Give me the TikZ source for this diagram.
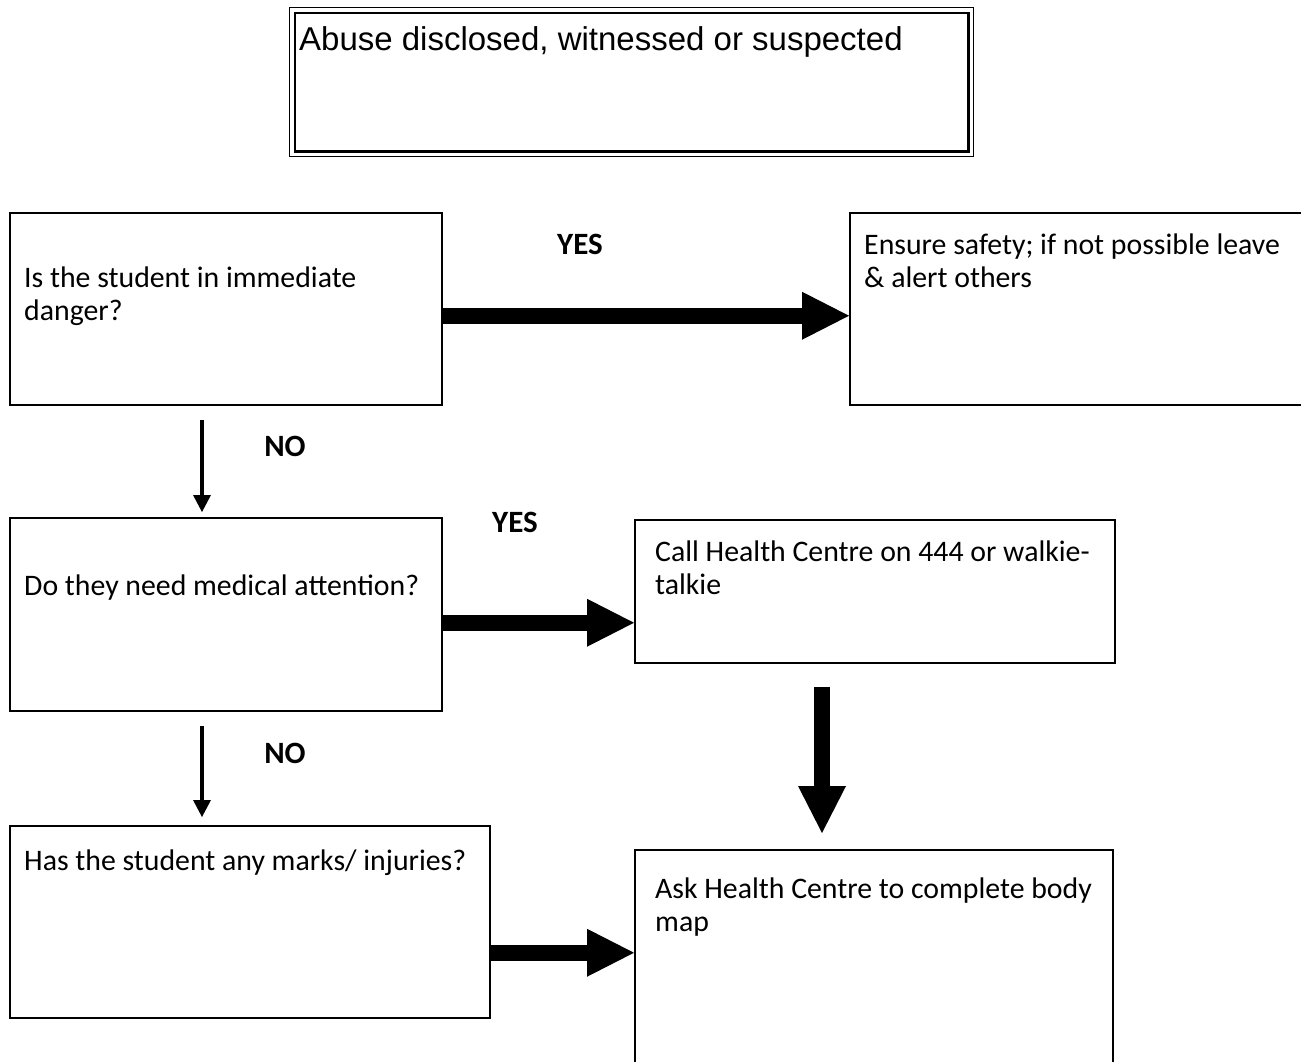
\documentclass[tikz,border=0pt]{standalone}
\usepackage{fontspec}
\setmainfont{Carlito}
\newfontfamily\arialfont{Liberation Sans}
\usetikzlibrary{arrows.meta}

\begin{document}
\begin{tikzpicture}[x=1pt,y=-1pt,
  box/.style={draw, line width=1.5pt, rectangle, inner sep=0pt, anchor=north west},
  txt/.style={inner sep=0pt, align=left, anchor=base west,
              font=\fontsize{29.8}{33}\selectfont},
  answer/.style={inner sep=0pt, anchor=base,
              font=\fontsize{31}{33}\selectfont\bfseries},
  fat/.style={line width=16pt, -{Triangle[width=48pt,length=47pt,line width=0pt]}},
  thinarr/.style={line width=4pt, -{Triangle[width=18pt,length=17pt,line width=0pt]}}]

\useasboundingbox (0,0) rectangle (1301,1061);
\clip (0,0) rectangle (1301,1061);
\fill[white] (0,0) rectangle (1301,1061);

% heading box with thin/thick double frame
\node[draw, line width=1.2pt, minimum width=684pt, minimum height=149pt,
      inner sep=0pt, anchor=north west] (top) at (289,7) {};
\draw[line width=2.6pt] ([shift={(6pt,-6pt)}]top.north west)
      rectangle ([shift={(-6pt,6pt)}]top.south east);
\node[inner sep=0pt, anchor=base west, font=\arialfont\fontsize{33}{38}\selectfont]
      (toptext) at (299,50) {Abuse disclosed, witnessed or suspected};

% question boxes
\node[box, minimum width=432pt, minimum height=192pt] (b1) at (9,212) {};
\node[box, minimum width=432pt, minimum height=193pt] (b3) at (9,517) {};
\node[box, minimum width=480pt, minimum height=192pt] (b5) at (9,825) {};

% action boxes
\node[box, minimum width=470pt, minimum height=192pt] (b2) at (849,212) {};
\node[box, minimum width=480pt, minimum height=143pt] (b4) at (634,519) {};
\node[box, minimum width=478pt, minimum height=221pt] (b6) at (634,849) {};

% box texts (base anchor of a two-line node sits on its last line)
\node[txt] (t1) at (24,320) {Is the student in immediate\\danger?};
\node[txt] (t2) at (864,287) {Ensure safety; if not possible leave\\\& alert others};
\node[txt] (t3) at (24,595) {Do they need medical attention?};
\node[txt] (t4) at (655,594) {Call Health Centre on 444 or walkie-\\talkie};
\node[txt] (t5) at (24,870) {Has the student any marks/ injuries?};
\node[txt] (t6) at (655,931) {Ask Health Centre to complete body\\map};

% answers
\node[answer] (yes1) at (580,254) {YES};
\node[answer] (no1) at (285,456) {NO};
\node[answer] (yes2) at (515,532) {YES};
\node[answer] (no2) at (285,763) {NO};

% connectors
\draw[fat] ([yshift=-7pt]b1.east) -- ([yshift=-7pt]b2.west);
\draw[fat] ([yshift=-8.5pt]b3.east) -- ([yshift=-31.5pt]b4.west);
\draw[fat] ([yshift=-31pt]b5.east) -- ([yshift=7.5pt]b6.west);
\draw[fat] ([xshift=188pt,yshift=-23pt]b4.south west) -- ([xshift=188pt,yshift=16pt]b6.north west);
\draw[thinarr] ([xshift=193pt,yshift=-14pt]b1.south west) -- ([xshift=193pt,yshift=5pt]b3.north west);
\draw[thinarr] ([xshift=193pt,yshift=-14pt]b3.south west) -- ([xshift=193pt,yshift=8pt]b5.north west);
\end{tikzpicture}
\end{document}
